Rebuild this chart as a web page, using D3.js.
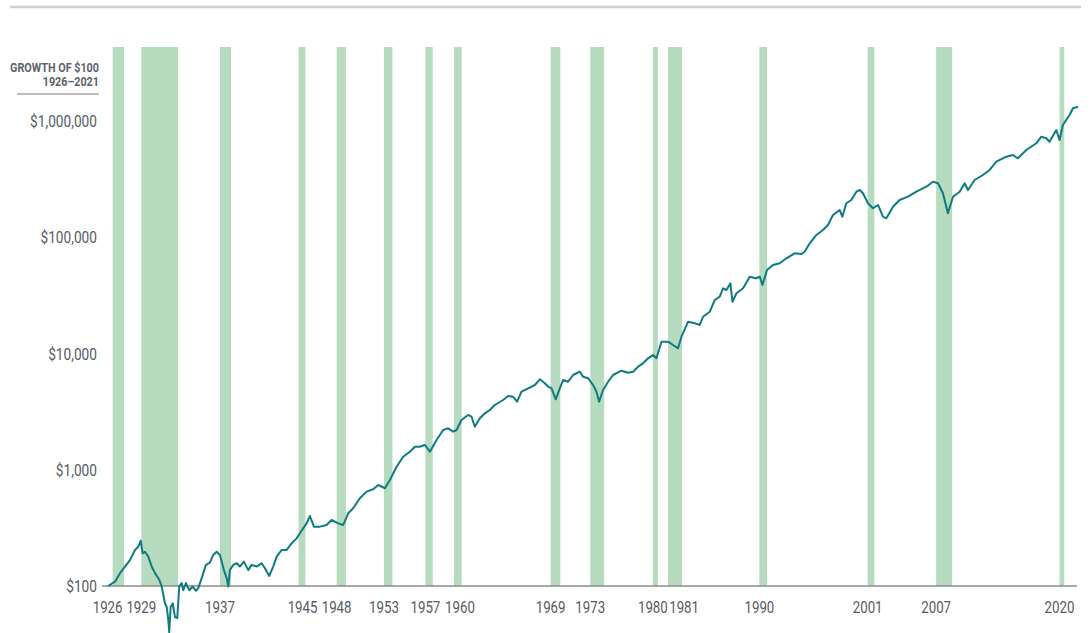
<!DOCTYPE html>
<html>
<head>
<meta charset="utf-8">
<script src="https://cdn.jsdelivr.net/npm/d3@7"></script>
<style>
  body { margin: 0; background: #fff; }
  svg { display: block; }
</style>
</head>
<body>
<svg id="chart"></svg>
<script>
// growth of $100, 1926-2021 (decimal year, dollars)
const growth = [
  [1926.3, 100], [1926.99, 109], [1927.48, 129], [1927.97, 147], [1928.46, 167],
  [1928.96, 204], [1929.28, 218], [1929.52, 245], [1929.71, 191], [1929.94, 197],
  [1930.27, 179], [1930.6, 147], [1930.93, 129], [1931.35, 113], [1931.59, 99],
  [1931.91, 71], [1932.08, 66], [1932.24, 51], [1932.33, 40], [1932.47, 66],
  [1932.67, 71], [1932.9, 54], [1933.12, 53], [1933.32, 99], [1933.56, 106],
  [1933.71, 92], [1933.98, 106], [1934.31, 92], [1934.64, 99], [1934.97, 91],
  [1935.19, 96], [1935.53, 117], [1935.95, 152], [1936.34, 159], [1936.67, 185],
  [1937.0, 197], [1937.33, 185], [1937.72, 137], [1937.99, 117], [1938.15, 99],
  [1938.31, 137], [1938.64, 152], [1938.98, 157], [1939.3, 147], [1939.69, 162],
  [1940.12, 137], [1940.45, 152], [1940.95, 147], [1941.44, 157], [1941.76, 142],
  [1942.19, 122], [1942.58, 147], [1942.92, 179], [1943.41, 204], [1943.9, 204],
  [1944.39, 233], [1944.89, 257], [1945.21, 284], [1945.87, 346], [1946.2, 400],
  [1946.59, 324], [1947.18, 324], [1947.84, 335], [1948.33, 370], [1948.99, 346],
  [1949.48, 335], [1949.97, 422], [1950.46, 466], [1951.12, 568], [1951.78, 648],
  [1952.43, 679], [1952.93, 739], [1953.59, 693], [1954.08, 816], [1954.74, 1062],
  [1955.39, 1295], [1956.05, 1430], [1956.54, 1579], [1957.03, 1579], [1957.53, 1633],
  [1958.02, 1430], [1958.68, 1803], [1959.33, 2198], [1959.82, 2273], [1960.32, 2125],
  [1960.65, 2198], [1961.14, 2679], [1961.79, 2958], [1962.13, 2860], [1962.45, 2346],
  [1962.95, 2771], [1963.44, 3059], [1963.93, 3266], [1964.42, 3606], [1965.24, 3981],
  [1965.73, 4309], [1966.23, 4240], [1966.62, 3849], [1967.05, 4692], [1967.71, 5020],
  [1968.37, 5358], [1968.86, 5999], [1969.35, 5541], [1969.68, 5181], [1970.01, 5020],
  [1970.43, 4036], [1970.83, 5020], [1971.15, 5916], [1971.65, 5720], [1972.14, 6531],
  [1972.8, 6972], [1973.12, 6316], [1973.62, 6120], [1974.11, 5358], [1974.44, 4692],
  [1974.7, 3849], [1975.09, 4853], [1975.59, 5720], [1976.08, 6531], [1976.91, 7112],
  [1977.56, 6836], [1978.05, 6972], [1978.54, 7700], [1979.03, 8235], [1979.53, 9094],
  [1980.02, 9707], [1980.35, 9094], [1980.85, 12634], [1981.5, 12634], [1981.99, 11833],
  [1982.48, 11083], [1982.82, 13948], [1983.47, 18772], [1984.13, 18188], [1984.62, 17588],
  [1984.95, 20730], [1985.61, 22880], [1986.1, 28860], [1986.59, 30810], [1986.92, 36380],
  [1987.25, 35170], [1987.64, 40170], [1987.84, 27900], [1988.24, 32950], [1988.89, 36380],
  [1989.55, 45780], [1990.14, 44360], [1990.54, 45780], [1990.8, 38830], [1991.25, 52260],
  [1991.84, 57710], [1992.5, 59680], [1993.16, 65900], [1993.98, 72770], [1994.64, 71770],
  [1994.96, 75110], [1995.46, 88720], [1996.12, 104570], [1996.77, 115460], [1997.26, 127500],
  [1997.75, 155400], [1998.41, 171600], [1998.67, 150200], [1999.07, 196000], [1999.56, 209200],
  [2000.06, 246500], [2000.39, 255000], [2000.71, 238800], [2001.2, 196000], [2001.69, 177500],
  [2002.19, 189500], [2002.68, 150200], [2003.01, 145600], [2003.67, 183200], [2004.32, 209200],
  [2005.14, 223300], [2005.97, 246500], [2006.95, 272200], [2007.61, 300500], [2008.1, 291200],
  [2008.59, 238800], [2009.08, 160700], [2009.58, 223300], [2010.24, 246500], [2010.73, 291200],
  [2011.06, 255000], [2011.71, 310800], [2012.53, 343200], [2013.19, 378900], [2013.85, 446600],
  [2014.84, 493200], [2015.49, 510100], [2015.98, 477600], [2016.81, 563000], [2017.79, 643000],
  [2018.28, 732800], [2018.78, 710000], [2019.1, 663600], [2019.76, 836800], [2020.09, 686500],
  [2020.41, 923900], [2021.07, 1126000], [2021.4, 1286000], [2021.89, 1327000]
];

// recession periods (start, end) and their labels
const recessions = [
  [1926.75, 1927.87], [1929.58, 1933.2], [1937.33, 1938.42], [1945.08, 1945.75],
  [1948.83, 1949.75], [1953.5, 1954.33], [1957.58, 1958.3], [1960.4, 1961.15],
  [1969.92, 1970.88], [1973.83, 1975.2], [1980.0, 1980.5], [1981.5, 1982.88],
  [1990.5, 1991.25], [2001.17, 2001.83], [2007.92, 2009.5], [2020.08, 2020.55]
];
const recessionLabels = ["1926", "1929", "1937", "1945", "1948", "1953", "1957", "1960",
  "1969", "1973", "1980", "1981", "1990", "2001", "2007", "2020"];

const yTicks = [100, 1000, 10000, 100000, 1000000];

const W = 1091, H = 633;
const plotTop = 47;
const font = 'Roboto, "Noto Sans", sans-serif';
const squeeze = 0.83;   // no condensed face installed, so narrow the text by hand
const textColor = '#555c65';
const labelNudge = {"1926": -5, "1945": 4, "1960": 6, "1981": 16};

var svg = d3.select('#chart').attr('width', W).attr('height', H);

var x = d3.scaleLinear().domain([1926, 2022]).range([105, 1079]);
var y = d3.scaleLog().domain([100, 1000000]).range([586, 121]);

// top rule
svg.append('line')
  .attr('x1', 10).attr('x2', 1081).attr('y1', 7).attr('y2', 7)
  .attr('stroke', '#d0d0d0').attr('stroke-width', 2.5);

// recession bars
svg.append('g').selectAll('rect')
  .data(recessions)
  .join('rect')
    .attr('x', d => x(d[0]))
    .attr('width', d => x(d[1]) - x(d[0]))
    .attr('y', plotTop)
    .attr('height', y(100) - plotTop)
    .attr('fill', '#b6dbbf');

// x axis baseline
svg.append('line')
  .attr('x1', 102).attr('x2', 1077).attr('y1', y(100)).attr('y2', y(100))
  .attr('stroke', '#8c8c8c').attr('stroke-width', 1.5);

// year labels at each recession start
svg.append('g').selectAll('text')
  .data(recessions)
  .join('text')
    .attr('transform', (d, i) => `translate(${x(d[0]) + (labelNudge[recessionLabels[i]] || 0)},613) scale(${squeeze},1)`)
    .attr('text-anchor', 'middle')
    .style('font-family', font)
    .style('font-size', '16px')
    .attr('fill', textColor)
    .text((d, i) => recessionLabels[i]);

// y labels
var fmt = d3.format(',');
svg.append('g').selectAll('text')
  .data(yTicks)
  .join('text')
    .attr('transform', d => `translate(97,${y(d) + 6}) scale(${squeeze},1)`)
    .attr('text-anchor', 'end')
    .style('font-family', font)
    .style('font-size', '16.5px')
    .attr('fill', textColor)
    .text(d => '$' + fmt(d));

// axis title
var title = svg.append('g')
  .style('font-family', font)
  .style('font-weight', 'bold')
  .attr('fill', '#5b636c')
  .attr('text-anchor', 'end');
title.append('text')
  .attr('transform', `translate(99,72) scale(${squeeze},1)`)
  .style('font-size', '13px').text('GROWTH OF $100');
title.append('text')
  .attr('transform', `translate(99,86) scale(${squeeze},1)`)
  .style('font-size', '13px').text('1926–2021');
svg.append('line')
  .attr('x1', 17).attr('x2', 99).attr('y1', 94).attr('y2', 94)
  .attr('stroke', '#a8a8a8').attr('stroke-width', 1.5);

// growth line
var line = d3.line()
  .x(d => x(d[0]))
  .y(d => y(d[1]));

svg.append('path')
  .datum(growth)
  .attr('fill', 'none')
  .attr('stroke', '#0f7b80')
  .attr('stroke-width', 2)
  .attr('stroke-linejoin', 'round')
  .attr('d', line);
</script>
</body>
</html>
